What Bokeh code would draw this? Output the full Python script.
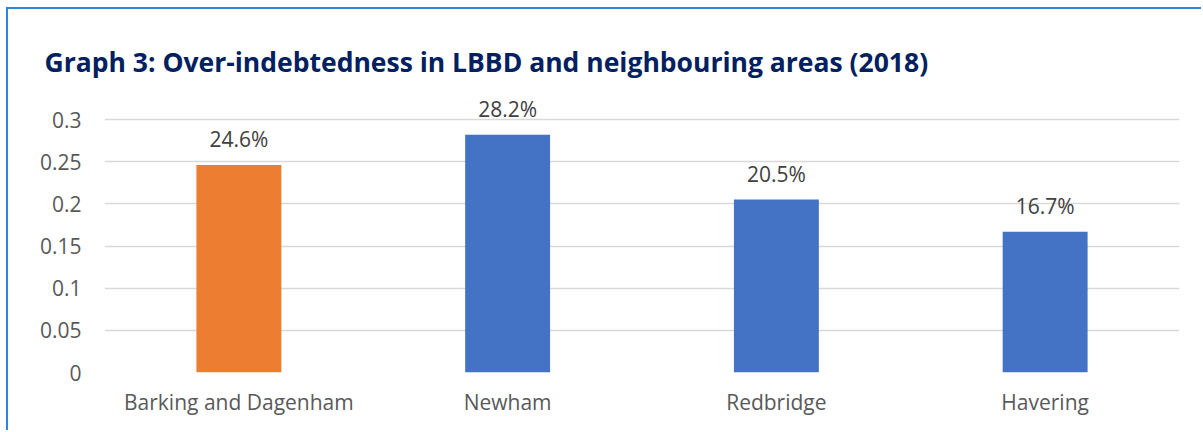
from bokeh.plotting import figure
from bokeh.models import ColumnDataSource, LabelSet, FixedTicker
from bokeh.embed import file_html
from bokeh.resources import INLINE
from bokeh.core.properties import value

categories = ["Barking and Dagenham", "Newham", "Redbridge", "Havering"]
values = [0.246, 0.282, 0.205, 0.167]
labels = ["24.6%", "28.2%", "20.5%", "16.7%"]
colors = ["#ED7D31", "#4472C4", "#4472C4", "#4472C4"]
y_ticks = [0, 0.05, 0.1, 0.15, 0.2, 0.25, 0.3]
title_text = "Graph 3: Over-indebtedness in LBBD and neighbouring areas (2018)"

FONT = "Open Sans"

source = ColumnDataSource(dict(cat=categories, val=values, lab=labels, col=colors))

# frame extends 30px above the 0.3 gridline so the tallest data label is not clipped
px_per_unit = 253 / 0.3
p = figure(x_range=categories, y_range=(0, 0.3 + 30 / px_per_unit), width=1195, height=423,
           output_backend="svg", toolbar_location=None,
           min_border_left=96, min_border_right=24, min_border_top=80, min_border_bottom=60,
           styles={"margin-left": "6px", "margin-top": "7px",
                   "border-left": "2px solid #2E86D9", "border-top": "2px solid #2E86D9"})

p.vbar(x="cat", top="val", width=0.316, color="col", source=source, line_color=None)

p.add_layout(LabelSet(x="cat", y="val", text="lab", source=source, text_align="center",
                      text_baseline="bottom", y_offset=12, text_font=value(FONT),
                      text_font_size="21px", text_color="#404040"))

p.title.text = title_text
p.title.align = "left"
p.title.offset = -60
p.title.standoff = 20
p.title.text_font = FONT
p.title.text_font_style = "bold"
p.title.text_font_size = "26.5px"
p.title.text_color = "#002060"

p.outline_line_color = None
p.xgrid.grid_line_color = None
p.ygrid.grid_line_color = "#D9D9D9"
p.ygrid.grid_line_width = 1.5
p.yaxis.ticker = FixedTicker(ticks=y_ticks)
for ax in (p.xaxis, p.yaxis):
    ax.axis_line_color = None
    ax.major_tick_line_color = None
    ax.minor_tick_line_color = None
    ax.major_label_text_font = FONT
    ax.major_label_text_font_size = "21px"
    ax.major_label_text_color = "#595959"
p.yaxis.major_label_standoff = 17
p.xaxis.major_label_standoff = 9
p.x_range.range_padding = 0

open("out.html", "w").write(file_html(p, INLINE))
